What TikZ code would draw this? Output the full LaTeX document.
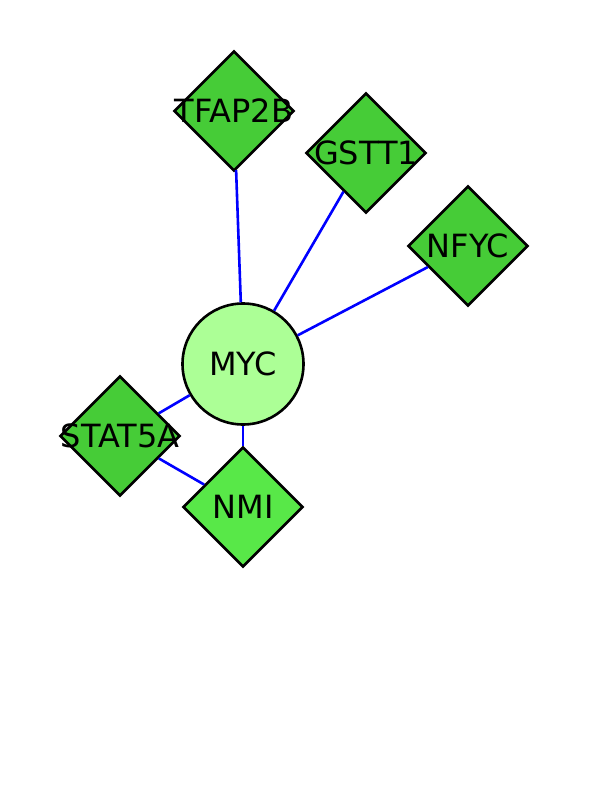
\documentclass[tikz,border=0pt]{standalone}
\usepackage{fontspec}
\setmainfont{DejaVu Sans}
\usepackage{xcolor}
\usetikzlibrary{shapes.geometric}
\definecolor{genegreen}{RGB}{70,204,55}
\definecolor{nmigreen}{RGB}{88,232,72}
\definecolor{hubgreen}{RGB}{172,255,150}
\definecolor{edgeblue}{RGB}{0,0,255}
\tikzset{
  gene/.style={diamond, draw=black, line width=2.6pt, fill=genegreen, minimum size=120pt, inner sep=0pt},
  hub/.style={circle, draw=black, line width=2.6pt, fill=hubgreen, minimum size=121pt, inner sep=0pt, font=\fontsize{32}{32}\selectfont},
  glabel/.style={font=\fontsize{32}{32}\selectfont, inner sep=0pt},
  link/.style={edgeblue, line width=2.6pt}
}

\begin{document}
\begin{tikzpicture}[x=1pt, y=-1pt]
\useasboundingbox (0,0) rectangle (612,792);
\node[hub] (myc) at (243,364) {MYC};
\node[gene, label={[glabel]center:TFAP2B}] (tfap) at (234,111) {};
\node[gene, label={[glabel]center:GSTT1}] (gstt) at (366,153) {};
\node[gene, label={[glabel]center:NFYC}] (nfyc) at (468,246) {};
\node[gene, label={[glabel]center:STAT5A}] (stat) at (120,436) {};
\node[gene, fill=nmigreen, label={[glabel]center:NMI}] (nmi) at (243,507) {};
\draw[link] (myc) -- (tfap);
\draw[link] (myc) -- (gstt);
\draw[link] (myc) -- (nfyc);
\draw[link] (myc) -- (stat);
\draw[link] (myc) -- (nmi);
\draw[link] (stat) -- (nmi);
\end{tikzpicture}
\end{document}
